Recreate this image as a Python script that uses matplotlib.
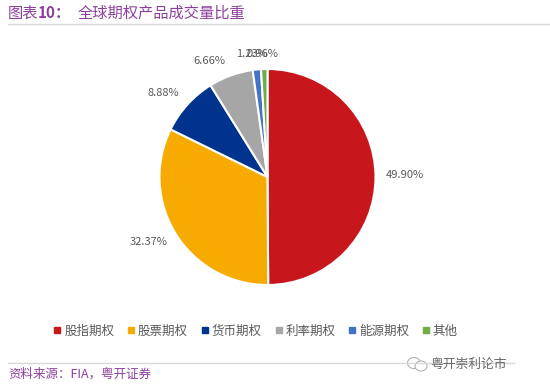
import matplotlib

matplotlib.use("Agg")
import matplotlib.pyplot as plt
from matplotlib.lines import Line2D
from matplotlib.patches import Ellipse
import numpy as np

plt.rcParams["font.family"] = ["Noto Sans CJK SC", "DejaVu Sans"]

categories = ["股指期权", "股票期权", "货币期权", "利率期权", "能源期权", "其他"]
values = [49.90, 32.37, 8.88, 6.66, 1.23, 0.96]
value_labels = ["49.90%", "32.37%", "8.88%", "6.66%", "1.23%", "0.96%"]
colors = ["#C8161D", "#F7AB00", "#00338D", "#A6A6A6", "#4472C4", "#70AD47"]

# label offset from the wedge's rim midpoint, pixels (x right, y up)
label_offsets = [(29.5, 2), (-27, -8), (-24.5, 12), (-21, 14.5), (-5, 15.5), (-2, 15)]

W, H = 550, 388
PURPLE = "#8E3F9E"
GREY = "#595959"

fig = plt.figure(figsize=(W / 100, H / 100), dpi=100)

# overlay in pixel coordinates, y pointing down
bg = fig.add_axes([0, 0, 1, 1])
bg.set_xlim(0, W)
bg.set_ylim(H, 0)
bg.axis("off")

bg.text(8, 13, "图表", color=PURPLE, fontsize=11, va="center")
bg.text(38, 13, "10：", color=PURPLE, fontsize=11, fontweight="bold", va="center")
bg.text(78, 13, "全球期权产品成交量比重", color=PURPLE, fontsize=11, va="center")
bg.plot([8, 550], [23.5, 23.5], color="#D9D9D9", lw=1)
bg.plot([8, 514], [362.5, 362.5], color="#D9D9D9", lw=1)
bg.text(8, 374.5, "资料来源：FIA，粤开证券", color=PURPLE, fontsize=9, va="center", style="italic")

# watermark
bg.add_patch(Ellipse((414, 363), 13, 11, fc="white", ec="#AAAAAA", lw=0.7))
bg.add_patch(Ellipse((421, 366), 12, 10, fc="white", ec="#AAAAAA", lw=0.7))
bg.text(430.5, 364, "粤开崇利论市", color="#666666", fontsize=9.2, va="center")

# pie, centre (267.5, 177), radius 108
cx, cy, r = 267.5, 177, 108
ax = fig.add_axes([(cx - r) / W, 1 - (cy + r) / H, 2 * r / W, 2 * r / H])
wedges, _ = ax.pie(
    values,
    colors=colors,
    startangle=90,
    counterclock=False,
    radius=1.0,
    wedgeprops={"edgecolor": "white", "linewidth": 1.5},
)
ax.set_xlim(-1, 1)
ax.set_ylim(-1, 1)

for wedge, text, offset in zip(wedges, value_labels, label_offsets):
    ang = np.deg2rad((wedge.theta1 + wedge.theta2) / 2)
    ax.annotate(
        text,
        xy=(np.cos(ang), np.sin(ang)),
        xytext=offset,
        textcoords="offset pixels",
        color=GREY,
        fontsize=8,
        ha="center",
        va="center",
        annotation_clip=False,
    )

handles = [
    Line2D([], [], marker="s", linestyle="none", markersize=3.8, color=c, label=name)
    for c, name in zip(colors, categories)
]
bg.legend(
    handles=handles,
    loc="center",
    bbox_to_anchor=(256 / W, 1 - 331 / H),
    bbox_transform=fig.transFigure,
    ncol=6,
    frameon=False,
    fontsize=9,
    labelcolor=GREY,
    handlelength=0.5,
    handletextpad=0.3,
    columnspacing=1.1,
)

fig.savefig("out.png", dpi=100)
